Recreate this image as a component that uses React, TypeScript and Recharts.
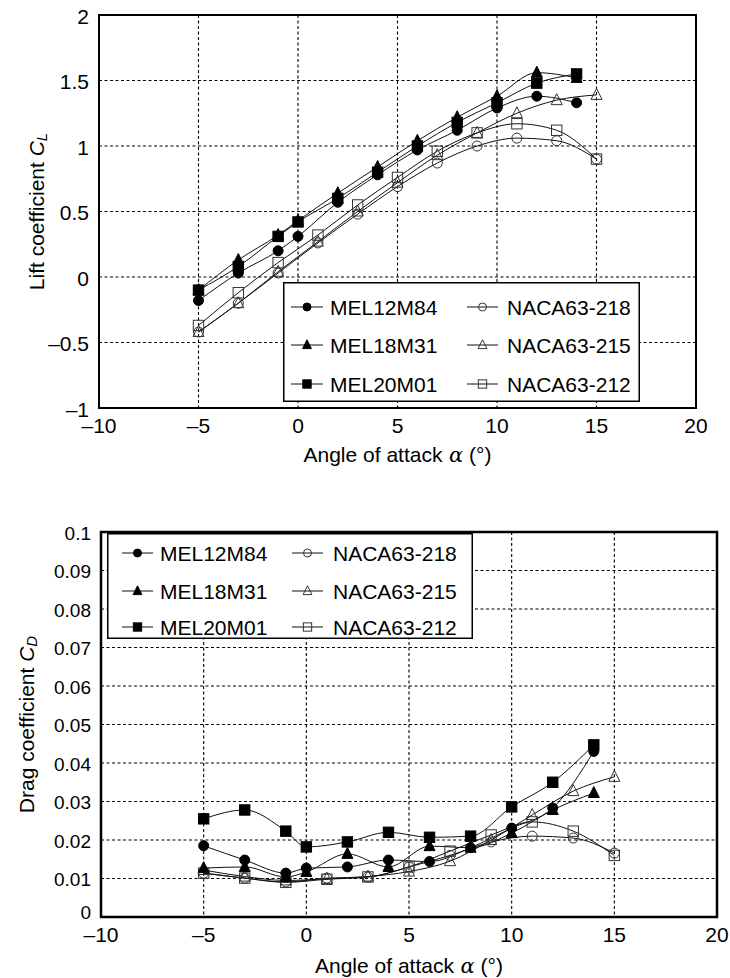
import React from 'react';
import { LineChart, Line, XAxis, YAxis, CartesianGrid, Legend, ReferenceArea } from 'recharts';

// angles of attack (deg)
const melAlpha = [-5, -3, -1, 0, 2, 4, 6, 8, 10, 12, 14];
const nacaAlpha = [-5, -3, -1, 1, 3, 5, 7, 9, 11, 13, 15];

// lift coefficient CL
const mel12m84Cl = [-0.18, 0.03, 0.2, 0.31, 0.57, 0.78, 0.97, 1.12, 1.29, 1.38, 1.33];
const mel18m31Cl = [-0.1, 0.13, 0.32, 0.43, 0.64, 0.84, 1.04, 1.22, 1.38, 1.56, 1.52];
const mel20m01Cl = [-0.1, 0.08, 0.31, 0.42, 0.6, 0.8, 1.0, 1.18, 1.33, 1.48, 1.55];
const naca218Cl = [-0.42, -0.2, 0.03, 0.26, 0.48, 0.69, 0.87, 1.0, 1.06, 1.04, 0.9];
const naca215Cl = [-0.42, -0.2, 0.04, 0.27, 0.5, 0.72, 0.93, 1.1, 1.25, 1.35, 1.39];
const naca212Cl = [-0.37, -0.12, 0.11, 0.32, 0.55, 0.76, 0.96, 1.1, 1.17, 1.12, 0.9];

// drag coefficient CD
const mel12m84Cd = [0.0185, 0.0148, 0.0114, 0.0127, 0.013, 0.0148, 0.0144, 0.018, 0.0231, 0.0283, 0.043];
const mel18m31Cd = [0.0127, 0.013, 0.0104, 0.0117, 0.0164, 0.013, 0.0184, 0.018, 0.0218, 0.0278, 0.0322];
const mel20m01Cd = [0.0255, 0.0278, 0.0223, 0.0182, 0.0195, 0.022, 0.0207, 0.021, 0.0286, 0.035, 0.0447];
const naca218Cd = [0.0114, 0.0101, 0.0091, 0.0101, 0.0104, 0.013, 0.016, 0.0195, 0.021, 0.0205, 0.0166];
const naca215Cd = [0.0122, 0.0105, 0.0095, 0.0099, 0.0105, 0.0118, 0.0145, 0.02, 0.0265, 0.0327, 0.0364];
const naca212Cd = [0.0114, 0.0101, 0.009, 0.0098, 0.0104, 0.013, 0.0171, 0.0213, 0.0247, 0.0223, 0.016];

const xTicks = [-10, -5, 0, 5, 10, 15, 20];
const clTicks = [-1, -0.5, 0, 0.5, 1, 1.5, 2];
const cdTicks = [0, 0.01, 0.02, 0.03, 0.04, 0.05, 0.06, 0.07, 0.08, 0.09, 0.1];

const FONT = '"Liberation Sans", Arial, Helvetica, sans-serif';
const FS = 21;

type Shape = 'circle' | 'triangle' | 'square';

const series = [
  { name: 'NACA63-218', shape: 'circle' as Shape, filled: false, alpha: nacaAlpha, cl: naca218Cl, cd: naca218Cd },
  { name: 'NACA63-215', shape: 'triangle' as Shape, filled: false, alpha: nacaAlpha, cl: naca215Cl, cd: naca215Cd },
  { name: 'NACA63-212', shape: 'square' as Shape, filled: false, alpha: nacaAlpha, cl: naca212Cl, cd: naca212Cd },
  { name: 'MEL12M84', shape: 'circle' as Shape, filled: true, alpha: melAlpha, cl: mel12m84Cl, cd: mel12m84Cd },
  { name: 'MEL18M31', shape: 'triangle' as Shape, filled: true, alpha: melAlpha, cl: mel18m31Cl, cd: mel18m31Cd },
  { name: 'MEL20M01', shape: 'square' as Shape, filled: true, alpha: melAlpha, cl: mel20m01Cl, cd: mel20m01Cd },
];

const legendCol1 = ['MEL12M84', 'MEL18M31', 'MEL20M01'];
const legendCol2 = ['NACA63-218', 'NACA63-215', 'NACA63-212'];

const fmtMinus = (v: number) => (v < 0 ? `\u2013${Math.abs(v)}` : String(v));

function Marker({ shape, filled, cx, cy, s = 1 }: { shape: Shape; filled: boolean; cx: number; cy: number; s?: number }) {
  const fill = filled ? '#000' : 'none';
  const stroke = filled ? '#000' : '#333';
  if (shape === 'circle') {
    return <circle cx={cx} cy={cy} r={5 * s} fill={fill} stroke={stroke} strokeWidth={1} />;
  }
  if (shape === 'square') {
    return <rect x={cx - 5.2 * s} y={cy - 5.2 * s} width={10.4 * s} height={10.4 * s} fill={fill} stroke={stroke} strokeWidth={1} />;
  }
  return (
    <polygon
      points={`${cx},${cy - 6.5 * s} ${cx - 5.5 * s},${cy + 4.5 * s} ${cx + 5.5 * s},${cy + 4.5 * s}`}
      fill={fill}
      stroke={stroke}
      strokeWidth={1}
    />
  );
}

interface LegendLayout {
  w: number;
  h: number;
  rows: number[];
  line1: [number, number];
  text1: number;
  line2: [number, number];
  text2: number;
}

function LegendBox({ w, h, rows, line1, text1, line2, text2 }: LegendLayout) {
  const find = (n: string) => series.find((s) => s.name === n)!;
  const renderItem = (n: string, y: number, line: [number, number], tx: number) => {
    const s = find(n);
    const mid = (line[0] + line[1]) / 2;
    return (
      <g key={n}>
        <line x1={line[0]} x2={line[1]} y1={y} y2={y} stroke="#111" strokeWidth={1} />
        <Marker shape={s.shape} filled={s.filled} cx={mid} cy={y} s={0.8} />
        <text x={tx} y={y} dominantBaseline="central" fontSize={FS} fontFamily={FONT} fill="#000">
          {n}
        </text>
      </g>
    );
  };
  return (
    <svg width={w} height={h} style={{ display: 'block' }}>
      <rect x={0.75} y={0.75} width={w - 1.5} height={h - 1.5} fill="#fff" stroke="#000" strokeWidth={1.5} />
      {legendCol1.map((n, i) => renderItem(n, rows[i], line1, text1))}
      {legendCol2.map((n, i) => renderItem(n, rows[i], line2, text2))}
    </svg>
  );
}

function YTitle({ viewBox, main, sub, cx }: any) {
  const cy = viewBox ? viewBox.y + viewBox.height / 2 : 200;
  return (
    <text
      x={cx}
      y={cy}
      transform={`rotate(-90, ${cx}, ${cy})`}
      textAnchor="middle"
      dominantBaseline="central"
      fontSize={FS}
      fontFamily={FONT}
      fill="#000"
    >
      {main}
      <tspan fontStyle="italic">C</tspan>
      <tspan fontStyle="italic" fontSize={15} dy={5}>
        {sub}
      </tspan>
    </text>
  );
}

function XTitle({ viewBox, offset }: any) {
  const cx = viewBox ? viewBox.x + viewBox.width / 2 : 400;
  const y = viewBox ? viewBox.y + offset : 460;
  return (
    <text x={cx} y={y} textAnchor="middle" fontSize={FS} fontFamily={FONT} fill="#000">
      Angle of attack
      <tspan fontStyle="italic" fontFamily='"DejaVu Serif", serif'> α</tspan> (°)
    </text>
  );
}

// y tick: the bottom-most label sits a little higher so it clears the x labels
function YTick({ x, y, payload, format, lift, size }: any) {
  const dy = payload.value === lift ? -5 : 1;
  return (
    <text x={x} y={y + dy} textAnchor="end" dominantBaseline="central" fontSize={size} fontFamily={FONT} fill="#000">
      {format(payload.value)}
    </text>
  );
}

function CoefChart({
  field,
  width,
  height,
  margin,
  xAxisHeight,
  yDomain,
  yTicks,
  yFormat,
  yTickSize,
  titleMain,
  titleSub,
  titleX,
  titleOffset,
  legend,
  legendPos,
  frameWidth,
}: any) {
  return (
    <LineChart width={width} height={height} margin={margin} style={{ fontFamily: FONT }}>
      <CartesianGrid stroke="#000" strokeWidth={1.1} strokeDasharray="3 2.5" />
      <XAxis
        type="number"
        dataKey="a"
        domain={[-10, 20]}
        ticks={xTicks}
        allowDataOverflow
        axisLine={false}
        tickLine={false}
        tickSize={0}
        tickMargin={10}
        tickFormatter={fmtMinus}
        tick={{ fontSize: FS, fill: '#000', fontFamily: FONT }}
        height={xAxisHeight}
        label={{ content: (p: any) => <XTitle {...p} offset={titleOffset} /> }}
      />
      <YAxis
        type="number"
        domain={yDomain}
        ticks={yTicks}
        allowDataOverflow
        axisLine={false}
        tickLine={false}
        tickSize={0}
        tickMargin={10}
        tick={(p: any) => <YTick {...p} format={yFormat} size={yTickSize} lift={field === 'cd' ? 0 : null} />}
        width={60}
        label={{ content: (p: any) => <YTitle {...p} main={titleMain} sub={titleSub} cx={titleX} /> }}
      />
      <ReferenceArea
        x1={-10}
        x2={20}
        y1={yDomain[0]}
        y2={yDomain[1]}
        fill="none"
        fillOpacity={0}
        stroke="#000"
        strokeWidth={frameWidth}
        ifOverflow="visible"
      />
      {series.map((s) => (
        <Line
          key={s.name}
          name={s.name}
          data={s.alpha.map((a, i) => ({ a, v: s[field as 'cl' | 'cd'][i] }))}
          dataKey="v"
          type="monotone"
          stroke="#111"
          strokeWidth={1}
          isAnimationActive={false}
          activeDot={false}
          dot={(p: any) => (
            <Marker key={`${s.name}-${p.index}`} shape={s.shape} filled={s.filled} cx={p.cx} cy={p.cy} />
          )}
        />
      ))}
      <Legend
        layout="horizontal"
        verticalAlign="middle"
        align="center"
        wrapperStyle={{ left: legendPos.left, top: legendPos.top, width: legend.w, height: legend.h }}
        content={() => <LegendBox {...legend} />}
      />
    </LineChart>
  );
}

export default function App() {
  return (
    <div style={{ position: 'absolute', left: 0, top: 0, width: 730, height: 978, background: '#fff' }}>
      <div style={{ position: 'absolute', left: 0, top: 0 }}>
        <CoefChart
          field="cl"
          width={730}
          height={470}
          margin={{ top: 15, right: 34, bottom: 12, left: 39 }}
          xAxisHeight={50}
          yDomain={[-1, 2]}
          yTicks={clTicks}
          yFormat={fmtMinus}
          yTickSize={FS}
          titleMain="Lift coefficient "
          titleSub="L"
          titleX={36}
          titleOffset={54}
          frameWidth={2}
          legend={{ w: 357, h: 120, rows: [25, 63, 102], line1: [8, 40], text1: 47, line2: [184, 215], text2: 224 }}
          legendPos={{ left: 283, top: 282 }}
        />
      </div>
      <div style={{ position: 'absolute', left: 0, top: 470 }}>
        <CoefChart
          field="cd"
          width={730}
          height={508}
          margin={{ top: 62, right: 13, bottom: 6, left: 41 }}
          xAxisHeight={55}
          yDomain={[0, 0.1]}
          yTicks={cdTicks}
          yFormat={(v: number) => String(v)}
          yTickSize={19}
          titleMain="Drag coefficient "
          titleSub="D"
          titleX={26}
          titleOffset={56}
          frameWidth={2.5}
          legend={{ w: 366, h: 106, rows: [20, 58, 94], line1: [15, 46], text1: 53, line2: [185, 216], text2: 226 }}
          legendPos={{ left: 107, top: 63 }}
        />
      </div>
    </div>
  );
}
